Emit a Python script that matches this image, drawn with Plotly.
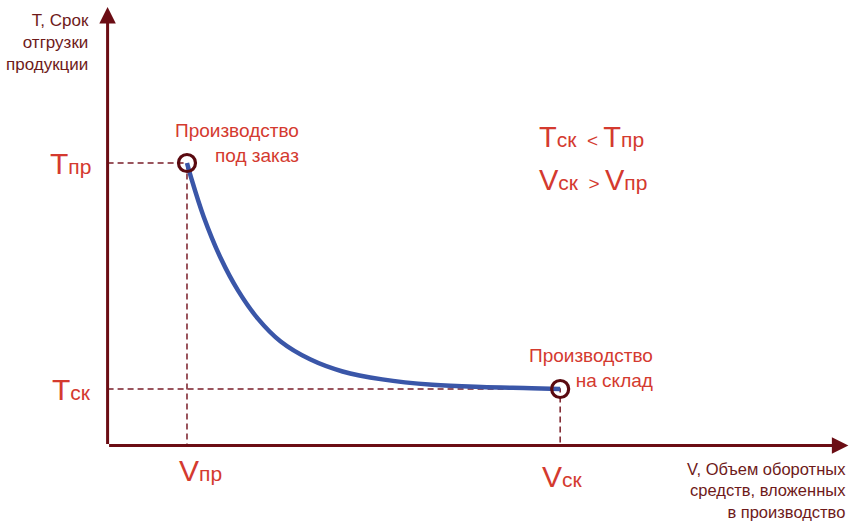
import plotly.graph_objects as go

# ---- data (conceptual units) ----
V_pr = 1.0      # Vпр
V_sk = 5.7      # Vск
T_pr = 10.0     # Tпр
T_sk = 2.0      # Tск

curve_V = [1.0, 1.05, 1.21, 1.43, 1.64, 1.89, 2.18, 2.55, 2.96, 3.46, 4.09, 4.71, 5.34, 5.7]
curve_T = [10.0, 9.5, 8.1, 6.6, 5.5, 4.5, 3.68, 3.05, 2.62, 2.34, 2.15, 2.07, 2.03, 2.0]

point_V = [V_pr, V_sk]
point_T = [T_pr, T_sk]

# axis extents
x_min, x_max = -1.355, 9.388
y_min, y_max = -2.708, 15.77
x_arrow_tip = 9.33
y_arrow_tip = 15.52

AXIS = "#6b0d14"
DASH = "#7a1e28"
RED = "#d43a2f"
DARK = "#6e1a1a"
BLUE = "#3a56a8"
FONT = "Liberation Sans, Arial, sans-serif"

fig = go.Figure()

# dashed guides
fig.add_trace(go.Scatter(x=[0, V_pr, V_pr], y=[T_pr, T_pr, 0], mode="lines",
                         line=dict(color=DASH, width=1.5, dash="6px,4px"), hoverinfo="skip"))
fig.add_trace(go.Scatter(x=[0, V_sk, V_sk], y=[T_sk, T_sk, 0], mode="lines",
                         line=dict(color=DASH, width=1.5, dash="6px,4px"), hoverinfo="skip"))

# curve
fig.add_trace(go.Scatter(x=curve_V, y=curve_T, mode="lines",
                         line=dict(color=BLUE, width=4.5, shape="spline", smoothing=1.0),
                         hoverinfo="skip"))

# end points
fig.add_trace(go.Scatter(x=point_V, y=point_T, mode="markers",
                         marker=dict(symbol="circle-open", size=17, color="#5a0a10",
                                     line=dict(width=3.2, color="#5a0a10")),
                         hoverinfo="skip"))

# axes with arrows
for tip_x, tip_y in [(x_arrow_tip, 0), (0, y_arrow_tip)]:
    fig.add_annotation(x=tip_x, y=tip_y, ax=0, ay=0, xref="x", yref="y", axref="x", ayref="y",
                       showarrow=True, arrowhead=2, arrowsize=1.1, arrowwidth=3,
                       arrowcolor=AXIS, text="")


def big(letter, sub, size_big=30, size_small=21):
    return (f"<span style='font-size:{size_big}px'>{letter}</span>"
            f"<span style='font-size:{size_small}px'>{sub}</span>")


# tick-like labels
for xx, yy, txt in [(-0.47, T_pr, big("T", "пр")), (-0.45, T_sk, big("T", "ск")),
                    (V_pr + 0.17, -0.88, big("V", "пр")), (V_sk + 0.03, -1.08, big("V", "ск"))]:
    fig.add_annotation(x=xx, y=yy, xref="x", yref="y", text=txt, showarrow=False,
                       font=dict(color=RED, family=FONT), xanchor="center", yanchor="middle")

# axis titles
fig.add_annotation(x=91 / 853, y=1 - 9 / 522, xref="paper", yref="paper",
                   text="T, Срок<br>отгрузки<br>продукции", showarrow=False, align="right",
                   xanchor="right", yanchor="top", font=dict(size=17, color=DARK, family=FONT))
fig.add_annotation(x=848 / 853, y=1 - 458 / 522, xref="paper", yref="paper",
                   text="V, Объем оборотных<br>средств, вложенных<br>в производство", showarrow=False,
                   align="right", xanchor="right", yanchor="top",
                   font=dict(size=16.5, color=DARK, family=FONT))

# point labels
fig.add_annotation(x=301 / 853, y=1 - 118 / 522, xref="paper", yref="paper",
                   text="Производство<br>под заказ", showarrow=False, align="right",
                   xanchor="right", yanchor="top", font=dict(size=19, color=RED, family=FONT))
fig.add_annotation(x=655 / 853, y=1 - 343 / 522, xref="paper", yref="paper",
                   text="Производство<br>на склад", showarrow=False, align="right",
                   xanchor="right", yanchor="top", font=dict(size=19, color=RED, family=FONT))

# relations
fig.add_annotation(x=537 / 853, y=1 - 137 / 522, xref="paper", yref="paper",
                   text=big("T", "ск", 29, 21) + "<span style='font-size:19px'>  &lt; </span>" + big("T", "пр", 29, 21),
                   showarrow=False, xanchor="left", yanchor="middle", font=dict(color=RED, family=FONT))
fig.add_annotation(x=537 / 853, y=1 - 180 / 522, xref="paper", yref="paper",
                   text=big("V", "ск", 29, 21) + "<span style='font-size:19px'>  &gt; </span>" + big("V", "пр", 29, 21),
                   showarrow=False, xanchor="left", yanchor="middle", font=dict(color=RED, family=FONT))

fig.update_layout(
    width=853, height=522,
    margin=dict(l=0, r=0, t=0, b=0),
    paper_bgcolor="white", plot_bgcolor="white",
    showlegend=False,
    xaxis=dict(range=[x_min, x_max], visible=False, fixedrange=True),
    yaxis=dict(range=[y_min, y_max], visible=False, fixedrange=True),
)

fig.write_html("out.html", config={"displayModeBar": False},
               post_script="document.body.style.margin='0';document.body.style.overflow='hidden';")
